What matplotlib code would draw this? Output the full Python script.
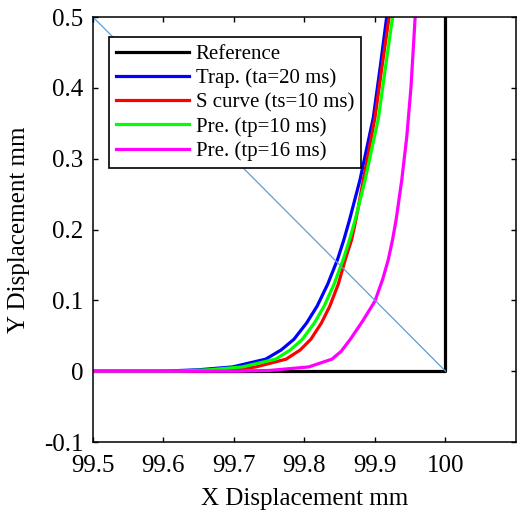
import matplotlib
matplotlib.use("Agg")
from matplotlib import pyplot as plt

# Reference path and diagonal guide
ref_x = [99.5, 100.0, 100.0]
ref_y = [0.0, 0.0, 0.5]
diag_x = [99.5, 100.0]
diag_y = [0.5, 0.0]

# Trap. (ta=20 ms)
trap_x = [99.50, 99.60, 99.65, 99.698, 99.745, 99.767, 99.785, 99.803, 99.818, 99.833,
          99.847, 99.856, 99.864, 99.8787, 99.8976, 99.9075, 99.9166]
trap_y = [0.0, 0.0, 0.002, 0.006, 0.017, 0.030, 0.045, 0.068, 0.092, 0.123,
          0.158, 0.186, 0.214, 0.270, 0.358, 0.430, 0.5]

# S curve (ts=10 ms)
scurve_x = [99.50, 99.65, 99.70, 99.731, 99.774, 99.794, 99.809, 99.824, 99.836, 99.848,
            99.858, 99.867, 99.873, 99.8835, 99.900, 99.910, 99.920]
scurve_y = [0.0, 0.0, 0.002, 0.006, 0.017, 0.030, 0.045, 0.068, 0.092, 0.123,
            0.158, 0.186, 0.214, 0.270, 0.358, 0.430, 0.5]

# Pre. (tp=10 ms)
pre10_x = [99.50, 99.62, 99.665, 99.712, 99.759, 99.780, 99.797, 99.814, 99.828, 99.842,
           99.855, 99.864, 99.872, 99.886, 99.905, 99.915, 99.925]
pre10_y = [0.0, 0.0, 0.002, 0.006, 0.017, 0.030, 0.045, 0.068, 0.092, 0.123,
           0.158, 0.186, 0.214, 0.270, 0.358, 0.430, 0.5]

# Pre. (tp=16 ms)
pre16_x = [99.50, 99.70, 99.75, 99.806, 99.839, 99.852, 99.865, 99.882, 99.900, 99.911,
           99.919, 99.925, 99.930, 99.938, 99.945, 99.951, 99.957]
pre16_y = [0.0, 0.0, 0.001, 0.006, 0.017, 0.028, 0.045, 0.070, 0.099, 0.130,
           0.158, 0.186, 0.214, 0.270, 0.330, 0.400, 0.5]

x_ticks = [99.5, 99.6, 99.7, 99.8, 99.9, 100.0]
x_labels = ["99.5", "99.6", "99.7", "99.8", "99.9", "100"]
y_ticks = [-0.1, 0.0, 0.1, 0.2, 0.3, 0.4, 0.5]
y_labels = ["-0.1", "0", "0.1", "0.2", "0.3", "0.4", "0.5"]

plt.rcParams["font.family"] = ["Liberation Serif", "DejaVu Serif"]

fig = plt.figure(figsize=(5.18, 5.16), dpi=100)
ax = fig.add_axes([0.1795, 0.1434, 0.8166, 0.8236])

lw = 2.3
ax.plot(ref_x, ref_y, color="k", lw=lw, label="Reference")
ax.plot(trap_x, trap_y, color="#0000ff", lw=lw, label="Trap. (ta=20 ms)")
ax.plot(scurve_x, scurve_y, color="#ff0000", lw=lw, label="S curve (ts=10 ms)")
ax.plot(pre10_x, pre10_y, color="#00ff00", lw=lw, label="Pre. (tp=10 ms)")
ax.plot(pre16_x, pre16_y, color="#ff00ff", lw=lw, label="Pre. (tp=16 ms)")
ax.plot(diag_x, diag_y, color="#5b9fd6", lw=0.9)

ax.set_xlim(99.5, 100.1)
ax.set_ylim(-0.1, 0.5)
ax.set_xticks(x_ticks)
ax.set_xticklabels(x_labels)
ax.set_yticks(y_ticks)
ax.set_yticklabels(y_labels)
ax.tick_params(direction="in", top=True, right=True, length=3.5, width=1.0,
               labelsize=18, colors="k")
ax.tick_params(axis="x", pad=9)
ax.tick_params(axis="y", pad=7)
for s in ax.spines.values():
    s.set_linewidth(1.1)
    s.set_color("k")

ax.set_xlabel("X Displacement mm", fontsize=18, labelpad=8)
ax.set_ylabel("Y Displacement mm", fontsize=18, labelpad=10)

leg = ax.legend(loc="upper left", bbox_to_anchor=(0.038, 0.953), borderaxespad=0,
                fontsize=15, fancybox=False, framealpha=1, edgecolor="k",
                handlelength=3.5, handletextpad=0.3, labelspacing=0.22,
                borderpad=0.35)
leg.get_frame().set_linewidth(1.2)

fig.savefig("out.png", dpi=100)
